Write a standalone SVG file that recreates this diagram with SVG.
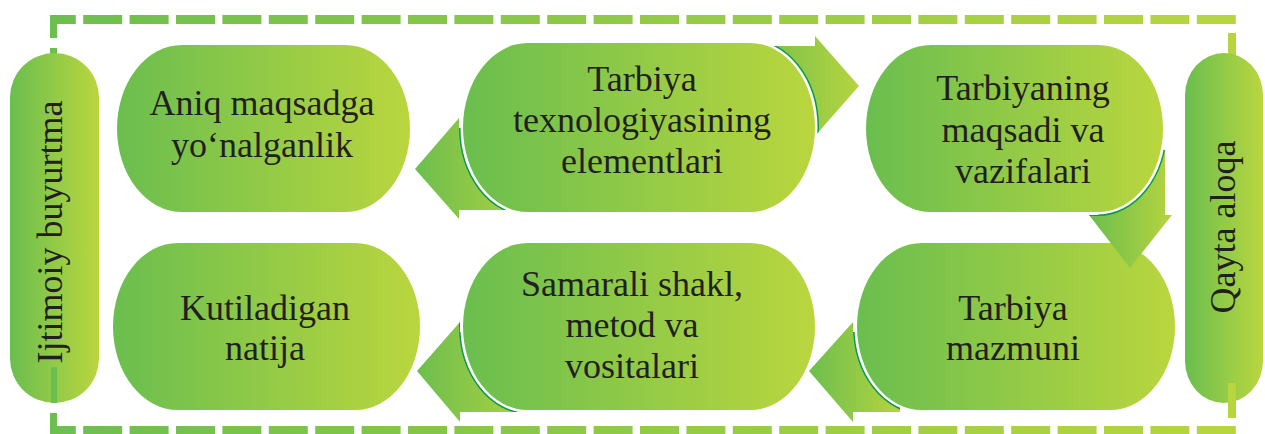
<svg xmlns="http://www.w3.org/2000/svg" width="1265" height="434" viewBox="0 0 1265 434">
<style>
.node{fill:url(#gNode)}
.pill{fill:url(#gNode)}
.arrow{fill:url(#gArrow)}
.rim{fill:none;stroke:#0b9a4a;stroke-width:8}
.lbl{font-family:"Liberation Serif",serif;font-size:36px;fill:#231f20;text-anchor:middle}
.dash{fill:none;stroke:url(#gDash);stroke-width:9;stroke-dasharray:39 7.4;stroke-dashoffset:13.2}
</style>
<defs>
<linearGradient id="gNode" x1="0" y1="0" x2="1" y2="0">
<stop offset="0" stop-color="#6abe4f"/><stop offset="1" stop-color="#bad63e"/>
</linearGradient>
<linearGradient id="gArrow" x1="0" y1="0" x2="1" y2="0">
<stop offset="0" stop-color="#6cbe4e"/><stop offset="1" stop-color="#b6d43f"/>
</linearGradient>
<linearGradient id="gDash" gradientUnits="userSpaceOnUse" x1="50" y1="0" x2="1236" y2="0">
<stop offset="0" stop-color="#6cbf4f"/><stop offset="1" stop-color="#b8d53f"/>
</linearGradient>
<mask id="mB" maskUnits="userSpaceOnUse" x="0" y="0" width="1265" height="434"><rect width="1265" height="434" fill="#fff"/><rect x="463" y="43" width="352" height="169" rx="65" ry="84.5" fill="#000" stroke="#000" stroke-width="5"/></mask>
<mask id="mC" maskUnits="userSpaceOnUse" x="0" y="0" width="1265" height="434"><rect width="1265" height="434" fill="#fff"/><rect x="866" y="45" width="297" height="167" rx="65" ry="83.5" fill="#000" stroke="#000" stroke-width="5"/></mask>
<mask id="mE" maskUnits="userSpaceOnUse" x="0" y="0" width="1265" height="434"><rect width="1265" height="434" fill="#fff"/><rect x="463" y="243" width="352" height="167" rx="65" ry="83.5" fill="#000" stroke="#000" stroke-width="5"/></mask>
<mask id="mF" maskUnits="userSpaceOnUse" x="0" y="0" width="1265" height="434"><rect width="1265" height="434" fill="#fff"/><rect x="857" y="243" width="318" height="167" rx="65" ry="83.5" fill="#000" stroke="#000" stroke-width="5"/></mask>
<clipPath id="c1"><polygon points="540,128 459,128 459,118 415,169 459,219 459,210 540,210"/></clipPath>
<clipPath id="c2"><polygon points="745,46 815,46 815,36 859,86 815,136 815,126 745,126"/></clipPath>
<clipPath id="c3"><polygon points="1098,150 1098,215 1089,215 1130,268 1172,215 1165,215 1165,150"/></clipPath>
<clipPath id="c4"><polygon points="900,332 853,332 853,322 809,371 853,422 853,412 900,412"/></clipPath>
<clipPath id="c5"><polygon points="540,332 460,332 460,322 417,371 460,422 460,412 540,412"/></clipPath>
</defs>

<g id="border">
<line class="dash" x1="50" y1="19.5" x2="1236" y2="19.5"/>
<line class="dash" x1="50" y1="430.5" x2="1236" y2="430.5"/>
<rect x="50" y="15" width="7" height="23" fill="#6cbf4f"/>
<rect x="50" y="48" width="7" height="12" fill="#6cbf4f"/>
<rect x="50" y="413" width="7" height="22" fill="#6cbf4f"/>
<rect x="1228" y="33" width="8" height="24" fill="#b8d53f"/>
</g>

<g id="pill-ijtimoiy">
<rect class="pill" x="10" y="53" width="89" height="350" rx="44.5" ry="44.5"/>
<rect x="51" y="367" width="6" height="36" fill="#6cbf4f"/>
<text class="lbl" transform="translate(62,232) rotate(-90)">Ijtimoiy buyurtma</text>
</g>

<g id="pill-qayta">
<rect class="pill" x="1185" y="53" width="78" height="350" rx="39" ry="42"/>
<rect x="1228" y="383" width="8" height="35" fill="#b8d53f"/>
<text class="lbl" transform="translate(1235,227) rotate(-90)">Qayta aloqa</text>
</g>

<g id="node-aniq">
<rect class="node" x="117" y="45" width="293" height="167" rx="65" ry="83.5"/>
<text class="lbl" x="262" y="115">Aniq maqsadga</text>
<text class="lbl" x="262" y="157">yo‘nalganlik</text>
</g>

<g id="node-tarbiya-tex">
<rect class="node" x="463" y="43" width="352" height="169" rx="65" ry="84.5"/>
<text class="lbl" x="642" y="91">Tarbiya</text>
<text class="lbl" x="642" y="132">texnologiyasining</text>
<text class="lbl" x="642" y="173">elementlari</text>
</g>

<g id="node-maqsadi">
<rect class="node" x="866" y="45" width="297" height="167" rx="65" ry="83.5"/>
<text class="lbl" x="1023" y="100">Tarbiyaning</text>
<text class="lbl" x="1023" y="142">maqsadi va</text>
<text class="lbl" x="1023" y="183">vazifalari</text>
</g>

<g id="node-kutiladigan">
<rect class="node" x="113" y="243" width="307" height="167" rx="65" ry="83.5"/>
<text class="lbl" x="265" y="320">Kutiladigan</text>
<text class="lbl" x="265" y="360">natija</text>
</g>

<g id="node-samarali">
<rect class="node" x="463" y="243" width="352" height="167" rx="65" ry="83.5"/>
<text class="lbl" x="632" y="296">Samarali shakl,</text>
<text class="lbl" x="632" y="337">metod va</text>
<text class="lbl" x="632" y="378">vositalari</text>
</g>

<g id="node-mazmuni">
<rect class="node" x="857" y="243" width="318" height="167" rx="65" ry="83.5"/>
<text class="lbl" x="1013" y="320">Tarbiya</text>
<text class="lbl" x="1013" y="360">mazmuni</text>
</g>

<g id="connectors">
<g id="arrow-tex-aniq" mask="url(#mB)">
<polygon class="arrow" points="540,128 459,128 459,118 415,169 459,219 459,210 540,210"/>
<rect class="rim" x="463" y="43" width="352" height="169" rx="65" ry="84.5" clip-path="url(#c1)"/>
</g>
<g id="arrow-tex-maqsadi" mask="url(#mB)">
<polygon class="arrow" points="745,46 815,46 815,36 859,86 815,136 815,126 745,126"/>
<rect class="rim" x="463" y="43" width="352" height="169" rx="65" ry="84.5" clip-path="url(#c2)"/>
</g>
<g id="arrow-maqsadi-mazmuni" mask="url(#mC)">
<polygon class="arrow" points="1098,150 1098,215 1089,215 1130,268 1172,215 1165,215 1165,150"/>
<rect class="rim" x="866" y="45" width="297" height="167" rx="65" ry="83.5" clip-path="url(#c3)"/>
</g>
<g id="arrow-mazmuni-samarali" mask="url(#mF)">
<polygon class="arrow" points="900,332 853,332 853,322 809,371 853,422 853,412 900,412"/>
<rect class="rim" x="857" y="243" width="318" height="167" rx="65" ry="83.5" clip-path="url(#c4)"/>
</g>
<g id="arrow-samarali-kutiladigan" mask="url(#mE)">
<polygon class="arrow" points="540,332 460,332 460,322 417,371 460,422 460,412 540,412"/>
<rect class="rim" x="463" y="243" width="352" height="167" rx="65" ry="83.5" clip-path="url(#c5)"/>
</g>
</g>
</svg>
